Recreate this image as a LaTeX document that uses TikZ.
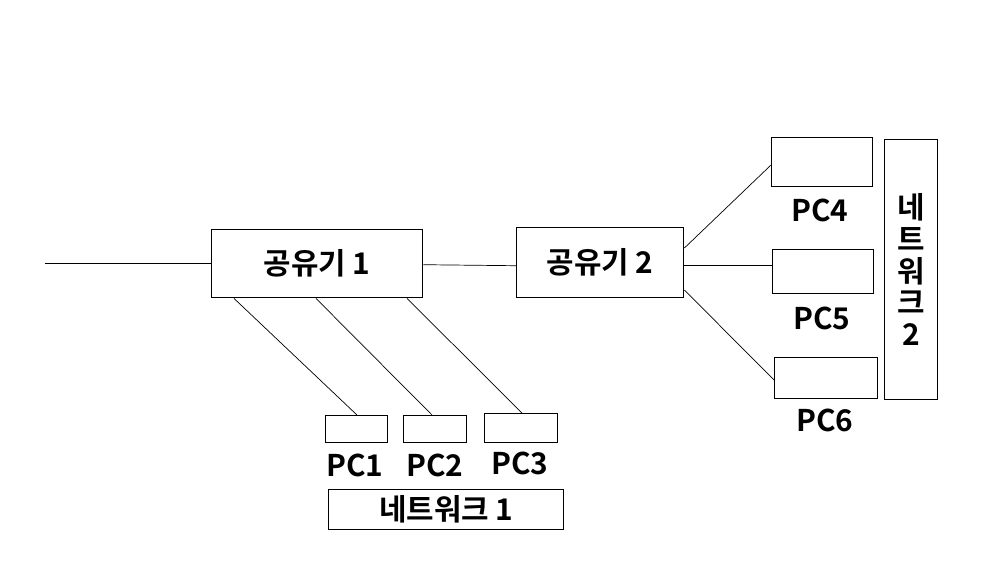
\documentclass[tikz,border=0pt]{standalone}
\usepackage{fontspec}
\setmainfont{Noto Sans CJK KR}[BoldFont={Noto Sans CJK KR Bold}]
\usetikzlibrary{calc}
\begin{document}
\begin{tikzpicture}[x=0.02cm,y=-0.02cm,
	box/.style={draw, line width=0.8pt, inner sep=0pt, anchor=north west},
	lbl/.style={font=\bfseries\fontsize{17}{20}\selectfont, inner sep=0pt}]
	\useasboundingbox (0,0) rectangle (1000,562);

	%Routers
	\node[box, minimum width=211*0.02cm, minimum height=68*0.02cm, lbl] (r1) at (211,229) {공유기 1};
	\node[box, minimum width=167*0.02cm, minimum height=70*0.02cm, lbl] (r2) at (516,227) {공유기 2};

	%PCs of network 1
	\node[box, minimum width=62*0.02cm, minimum height=27*0.02cm] (pc1) at (325,415) {};
	\node[box, minimum width=63*0.02cm, minimum height=27*0.02cm] (pc2) at (403,415) {};
	\node[box, minimum width=73*0.02cm, minimum height=29*0.02cm] (pc3) at (484,413) {};
	\node[lbl] at (355,465) {PC1};
	\node[lbl] at (435,465) {PC2};
	\node[lbl] at (520,463) {PC3};
	\node[box, minimum width=235*0.02cm, minimum height=40*0.02cm, lbl] (n1) at (328,489) {네트워크 1};

	%PCs of network 2
	\node[box, minimum width=101*0.02cm, minimum height=49*0.02cm] (pc4) at (771,137) {};
	\node[box, minimum width=101*0.02cm, minimum height=44*0.02cm] (pc5) at (772,249) {};
	\node[box, minimum width=103*0.02cm, minimum height=41*0.02cm] (pc6) at (774,357) {};
	\node[lbl] at (820,210) {PC4};
	\node[lbl] at (822,318) {PC5};
	\node[lbl] at (825,420) {PC6};
	\node[box, minimum width=53*0.02cm, minimum height=260*0.02cm] (n2) at (884,139) {};
	\node[lbl, align=center] at (n2.center) {네\\[-2pt]트\\[-2pt]워\\[-2pt]크\\[-2pt]2};

	%Links
	\coordinate (wan) at (45,263);
	\draw (wan) -- (r1.west |- wan);
	\draw ($(r1.east)+(0,1)$) -- ($(r2.west)+(0,3)$);
	\draw ($(r1.south west)+(23,0)$) -- ($(pc1.north west)+(32,0)$);
	\draw ($(r1.south west)+(105,0)$) -- ($(pc2.north west)+(29,0)$);
	\draw ($(r1.south west)+(196,0)$) -- ($(pc3.north west)+(38,0)$);
	\draw ($(r2.north east)+(0,21)$) -- ($(pc4.north west)+(0,28)$);
	\draw ($(r2.north east)+(0,38)$) -- ($(pc5.north west)+(0,16)$);
	\draw ($(r2.north east)+(0,63)$) -- ($(pc6.north west)+(0,23)$);
\end{tikzpicture}
\end{document}
